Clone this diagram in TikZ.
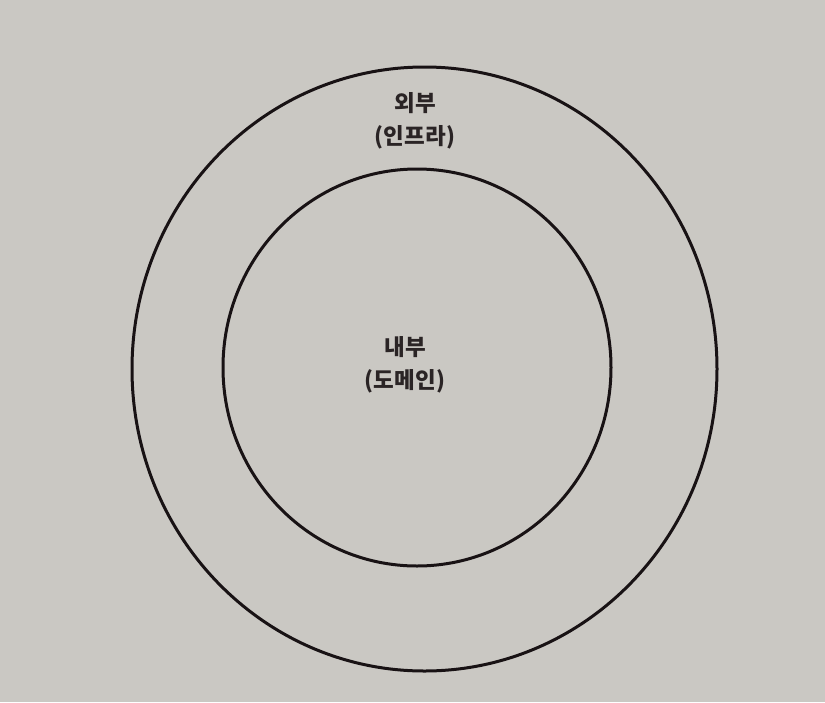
\documentclass[tikz,border=0pt]{standalone}
\usepackage{fontspec}
\newfontfamily\krfont{Noto Sans CJK KR}
\definecolor{paper}{RGB}{202,200,195}
\definecolor{ink}{RGB}{24,18,20}
\tikzset{
  ring/.style={draw=ink, line width=3pt},
  ringlabel/.style={font=\krfont\bfseries\fontsize{22.5}{33}\selectfont, text=ink!90!paper, align=center, inner sep=0pt}
}
\begin{document}
\begin{tikzpicture}[x=1pt,y=-1pt]
\useasboundingbox (0,0) rectangle (825,702);
\fill[paper] (0,0) rectangle (825,702);
\draw[ring] (424.5,369) ellipse [x radius=292.5, y radius=302];
\draw[ring] (417,367.5) ellipse [x radius=194, y radius=198.5];
\node[ringlabel] (outer) at (415,121) {외부\\(인프라)};
\node[ringlabel] (inner) at (405,365) {내부\\(도메인)};
\end{tikzpicture}
\end{document}
